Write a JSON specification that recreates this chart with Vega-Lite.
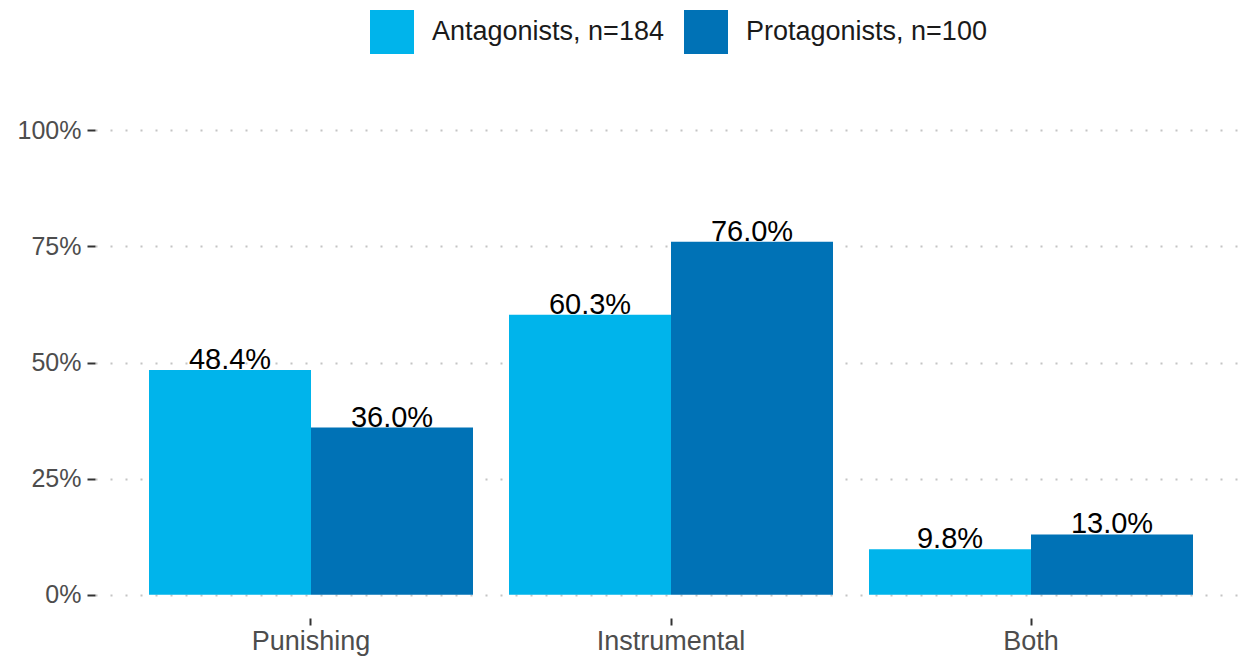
{
  "$schema": "https://vega.github.io/schema/vega-lite/v6.json",
  "width": 1152,
  "height": 511,
  "autosize": {"type": "none"},
  "padding": {"left": 95, "top": 107, "right": 1, "bottom": 41},
  "background": "white",
  "config": {"view": {"stroke": null}, "font": "Liberation Sans"},
  "data": {
    "values": [
      {"type": "Punishing", "group": "Antagonists, n=184", "value": 0.484},
      {"type": "Punishing", "group": "Protagonists, n=100", "value": 0.36},
      {"type": "Instrumental", "group": "Antagonists, n=184", "value": 0.603},
      {"type": "Instrumental", "group": "Protagonists, n=100", "value": 0.76},
      {"type": "Both", "group": "Antagonists, n=184", "value": 0.098},
      {"type": "Both", "group": "Protagonists, n=100", "value": 0.13}
    ]
  },
  "encoding": {
    "x": {
      "field": "type", "type": "nominal",
      "sort": ["Punishing", "Instrumental", "Both"],
      "scale": {"paddingInner": 0.1, "paddingOuter": 0.15},
      "axis": {"title": null, "domain": false, "ticks": true, "tickSize": 7, "tickColor": "#333333", "tickWidth": 2, "labelAngle": 0, "labelFontSize": 27, "labelColor": "#4d4d4d", "labelPadding": 3, "grid": false}
    },
    "xOffset": {
      "field": "group", "type": "nominal",
      "sort": ["Antagonists, n=184", "Protagonists, n=100"],
      "scale": {"paddingInner": 0, "paddingOuter": 0}
    },
    "y": {
      "field": "value", "type": "quantitative",
      "scale": {"domain": [-0.05, 1.05], "nice": false, "zero": false},
      "axis": {"title": null, "domain": false, "values": [0, 0.25, 0.5, 0.75, 1], "format": "%", "tickSize": 8, "tickColor": "#333333", "tickWidth": 2, "labelFontSize": 25, "labelColor": "#4d4d4d", "labelPadding": 6, "grid": true, "gridDash": [2, 13], "gridColor": "#c4c4c4", "gridWidth": 2}
    }
  },
  "layer": [
    {
      "mark": {"type": "bar"},
      "encoding": {
        "y2": {"datum": 0},
        "color": {
          "field": "group", "type": "nominal",
          "scale": {"domain": ["Antagonists, n=184", "Protagonists, n=100"], "range": ["#00b4eb", "#0072b6"]},
          "legend": {"title": null, "orient": "none", "legendX": 275, "legendY": -97, "direction": "horizontal", "symbolType": "square", "symbolSize": 1936, "symbolStrokeWidth": 0, "symbolOpacity": 1, "labelFontSize": 27, "labelColor": "#1a1a1a", "labelOffset": 18, "columnPadding": 20, "padding": 0, "labelLimit": 400}
        }
      }
    },
    {
      "mark": {"type": "text", "baseline": "alphabetic", "dy": -1, "fontSize": 29, "color": "#000000"},
      "encoding": {"text": {"field": "value", "type": "quantitative", "format": ".1%"}}
    }
  ]
}
